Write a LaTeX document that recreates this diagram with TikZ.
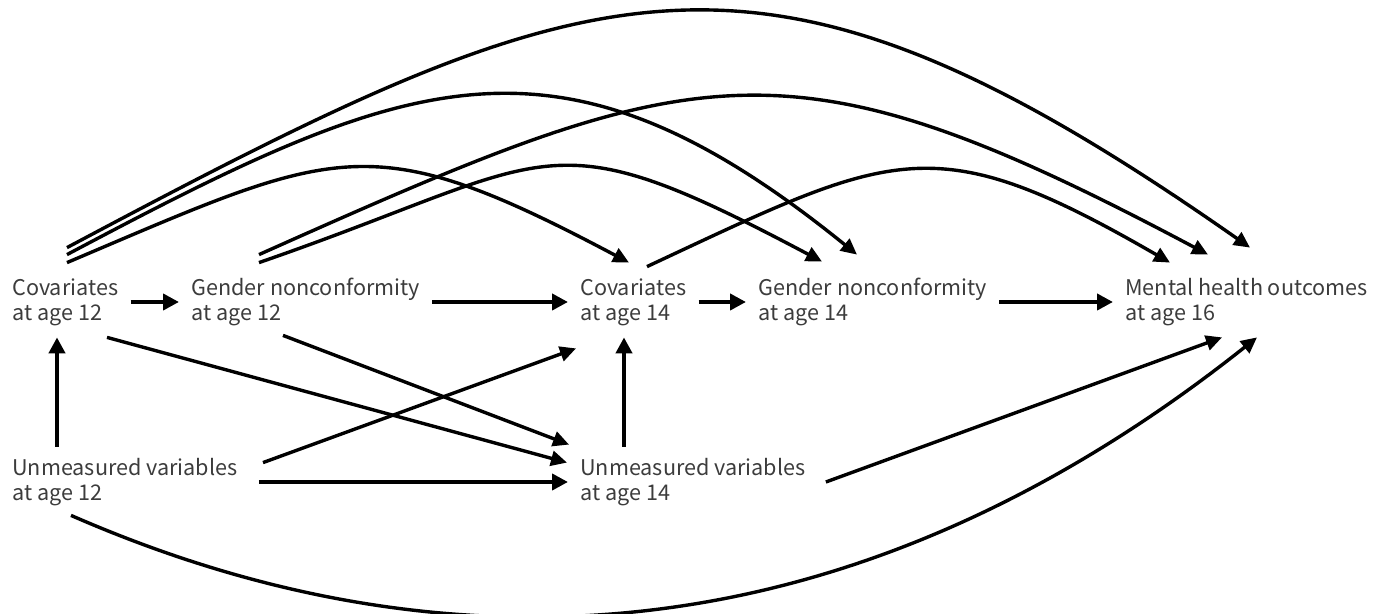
\documentclass[tikz,border=0pt]{standalone}
\usepackage{fontspec}
\usepackage{tikz}
\usetikzlibrary{arrows.meta,positioning,calc}
\newfontfamily\jpfont{Noto Sans CJK JP}
\definecolor{labelgray}{RGB}{60,60,60}

\tikzset{
    varnode/.style={inner xsep=6pt, inner ysep=0pt, minimum height=35pt, align=left,
        anchor=west, text=labelgray, font=\jpfont\fontsize{10.8}{12.5}\selectfont},
    arr/.style={line width=1.7pt, -{Triangle[length=8pt,width=7.5pt]}},
    arrthick/.style={line width=2.4pt, -{Triangle[length=8pt,width=8pt]}}
}

\begin{document}
\begin{tikzpicture}[x=0.5pt, y=-0.5pt]
    \useasboundingbox (0,0) rectangle (1389,614);

    % Variables
    \node[varnode] (cov12) at (0,302) {Covariates\\at age 12};
    \node[varnode] (gnc12) at (179,302) {Gender nonconformity\\at age 12};
    \node[varnode] (cov14) at (568,302) {Covariates\\at age 14};
    \node[varnode] (gnc14) at (746,302) {Gender nonconformity\\at age 14};
    \node[varnode] (mh16) at (1113,302) {Mental health outcomes\\at age 16};
    \node[varnode] (un12) at (0,482) {Unmeasured variables\\at age 12};
    \node[varnode] (un14) at (568,482) {Unmeasured variables\\at age 14};

    % Main chain
    \draw[arrthick] (cov12) -- (gnc12);
    \draw[arrthick] (gnc12) -- (cov14);
    \draw[arrthick] (cov14) -- (gnc14);
    \draw[arrthick] (gnc14) -- (mh16);

    % Unmeasured variables
    \draw[arrthick] ([shift={(57,0)}]un12.north west) -- ([shift={(57,0)}]cov12.south west);
    \draw[arrthick] ([shift={(56,0)}]un14.north west) -- ([shift={(56,0)}]cov14.south west);
    \draw[arrthick, shorten <=4.5pt] (un12) -- (un14);
    \draw[arr] ([shift={(263,16)}]un12.north west) -- ([shift={(8,11)}]cov14.south west);
    \draw[arr] ([shift={(107,0)}]cov12.south west) -- ([shift={(-1,16)}]un14.north west);
    \draw[arr] ([shift={(104,-2)}]gnc12.south west) -- ([shift={(1,-2)}]un14.north west);
    \draw[arr] ([shift={(8,0)}]un14.east) -- ([shift={(109,0)}]mh16.south west);
    \draw[arr] ([shift={(71,-2)}]un12.south west)
        .. controls +(309,135) and +(-457,363) .. ([shift={(144,0)}]mh16.south west);

    % Arcs over the top
    \draw[arr] ([shift={(67,-19)}]cov12.north west)
        .. controls +(532,-283) and +(-494,-346) .. ([shift={(137,-19)}]mh16.north west);
    \draw[arr] ([shift={(67,-12)}]cov12.north west)
        .. controls +(341,-181) and +(-300,-243) .. ([shift={(111,-12)}]gnc14.north west);
    \draw[arr] ([shift={(67,-4)}]cov12.north west)
        .. controls +(271,-115) and +(-260,-138) .. ([shift={(61,-4)}]cov14.north west);
    \draw[arr] ([shift={(80,-12)}]gnc12.north west)
        .. controls +(439,-196) and +(-425,-226) .. ([shift={(95,-12)}]mh16.north west);
    \draw[arr] ([shift={(80,-4)}]gnc12.north west)
        .. controls +(301,-104) and +(-281,-149) .. ([shift={(76,-5)}]gnc14.north west);
    \draw[arr] ([shift={(79,0)}]cov14.north west)
        .. controls +(248,-116) and +(-237,-137) .. ([shift={(57,-4)}]mh16.north west);
\end{tikzpicture}
\end{document}
